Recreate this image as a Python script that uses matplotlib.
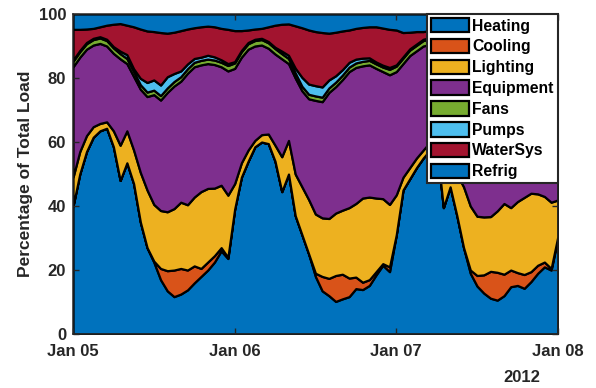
import numpy as np
import matplotlib
matplotlib.use("Agg")
import matplotlib.pyplot as plt
import matplotlib.dates as mdates
from datetime import datetime, timedelta

plt.rcParams['font.family'] = ['Liberation Sans', 'DejaVu Sans']
plt.rcParams['font.weight'] = 'bold'

# Hourly end-use shares (% of total building load), 5-8 Jan 2012
start = datetime(2012, 1, 5)
times = [start + timedelta(hours=h) for h in range(73)]

categories = ["Heating", "Cooling", "Lighting", "Equipment", "Fans", "Pumps", "WaterSys", "Refrig"]
colors = ["#0072BD", "#D95319", "#EDB120", "#7E2F8E", "#77AC30", "#4DBEEE", "#A2142F", "#0072BD"]

heating = [40, 50, 57, 61.5, 63.5, 64.3, 58.5, 48, 53.5, 47, 35, 27, 22.5, 17, 13.5, 11.7, 12.5, 13.8,
           16, 18, 20, 22.5, 26, 23.6, 39, 49, 54, 58.5, 60, 59.5, 54, 44.5, 50, 37, 31, 25, 18, 13.5,
           12, 10.2, 11, 11.7, 14.2, 13.9, 15.2, 18.5, 21.5, 19.5, 31, 45, 48.5, 52, 55, 57.5, 59, 39.5,
           46, 37, 27, 19, 15, 12.8, 11.2, 10.6, 12, 14.8, 15.2, 14.3, 16.4, 19, 21, 20, 30]
cooling = [0, 0, 0, 0, 0, 0, 0, 0, 0, 0, 0, 0, 0.3, 3.5, 6.3, 8.3, 8, 6.2, 5.3, 2.5, 2.5, 2, 1, 0.4,
           0, 0, 0, 0, 0, 0, 0, 0, 0, 0, 0, 0, 1, 4.5, 5.4, 8.1, 7.7, 5.8, 3.6, 2.3, 1.8, 1, 0.5, 1.5,
           0, 0, 0, 0, 0, 0, 0, 0, 0, 0, 0, 1, 3.3, 5.7, 8.4, 8.7, 6.7, 5.2, 4, 4.3, 3.1, 2.5, 1.5, 0.5, 0.5]
lighting = [9, 7, 5, 3.3, 2.3, 2, 5, 11, 10, 10.5, 15.5, 18, 17.7, 18.1, 18.4, 19.2, 20.7, 20.4, 21.5,
            24, 23, 21.1, 19.5, 19.4, 8, 4.5, 3.5, 2, 2.3, 3, 5, 10.9, 10.5, 13, 15, 17, 18.5, 18.3,
            18.7, 19.5, 20, 22, 23, 26.3, 25.8, 23, 20.3, 19.5, 12.5, 4, 3.5, 3, 2.5, 2.5, 2.5, 15.5,
            9, 13, 19, 20, 18.5, 18.1, 17.1, 19.2, 22.1, 19.5, 22.2, 24.1, 24.5, 22.3, 20.5, 20.7, 11.4]
equipment = [34.5, 29.5, 27, 25.5, 25, 23.7, 24.2, 27, 21, 23, 26, 29.2, 34.3, 34.5, 37.3, 38.3, 37.8,
             41.1, 40.7, 39.6, 39, 38.6, 37, 38.8, 36, 33, 31.5, 29.5, 28, 26.8, 28.5, 30.6, 24, 30,
             30, 31.5, 35.5, 36.3, 39.4, 39.5, 40.8, 42.5, 42.5, 41.3, 41.3, 40.5, 39.7, 40.5, 38.5,
             35.5, 35, 33.5, 32.5, 30.5, 29, 34.5, 32.5, 35, 35, 37, 37.7, 36.9, 36.3, 35.5, 35.2, 39,
             39.6, 39.8, 39.5, 40.2, 40.5, 41.8, 42.1]
fans = [1.7, 1.7, 1.7, 1.7, 1.7, 1.7, 1.7, 1.6, 1.6, 1.6, 1.4, 1.4, 1.4, 1.4, 1.4, 1.4, 1.4, 1.4, 1.4,
        1.4, 1.4, 1.4, 1.4, 1.7, 1.7, 1.7, 1.7, 1.7, 1.7, 1.7, 1.7, 1.6, 1.6, 1.6, 1.4, 1.4, 1.4, 1.4,
        1.4, 1.4, 1.4, 1.4, 1.4, 1.4, 1.4, 1.4, 1.4, 1.7, 1.7, 1.7, 1.7, 1.7, 1.7, 1.7, 1.7, 1.6, 1.6,
        1.6, 1.4, 1.4, 1.4, 1.4, 1.4, 1.4, 1.4, 1.4, 1.4, 1.4, 1.4, 1.4, 1.4, 1.4, 1.4]
pumps = [0.4, 0.4, 0.4, 0.4, 0.4, 0.4, 0.4, 0.8, 1.2, 0.8, 2, 3, 3.2, 3.3, 3.5, 2.5, 1.8, 1.5, 1.2, 1,
         1.2, 1, 0.8, 0.6, 0.4, 0.4, 0.4, 0.4, 0.4, 0.4, 0.4, 0.8, 1, 1.5, 2.8, 3.2, 3.2, 3.2, 2.5, 2,
         1.7, 1.5, 1.2, 1, 0.8, 0.6, 0.6, 0.6, 0.4, 0.4, 0.4, 0.4, 0.4, 0.4, 0.4, 0.4, 0.4, 1.5, 2.8,
         3.2, 3.3, 3.2, 2.8, 2.2, 1.8, 1.5, 1.2, 1, 0.8, 0.7, 0.6, 0.6, 0.6]
watersys = [9.6, 6.6, 4.2, 3.1, 3.1, 4.4, 7, 8.6, 9.2, 13.1, 15.4, 16.1, 15.1, 16.4, 13.6, 12.9, 12.6,
            10.9, 9.6, 9.5, 9.1, 9.4, 9.8, 10.7, 9.7, 6.2, 3.9, 3.2, 3.1, 4.6, 6.9, 8.4, 9.8, 13.2,
            15.5, 16.9, 16.9, 17, 14.6, 13.6, 12.1, 10.1, 9.6, 9.6, 9.7, 11, 11.6, 11.9, 10.9, 7.6,
            5.2, 3.9, 2.4, 2.2, 2.7, 4.5, 7, 8.4, 10.8, 13.7, 15.5, 16.2, 16.8, 16.4, 15.1, 13.4,
            11.7, 10.8, 10.3, 9.9, 10.2, 10.3, 9]
refrig = [4.8, 4.8, 4.7, 4.5, 4, 3.5, 3.2, 3, 3.5, 4, 4.7, 5.3, 5.5, 5.8, 6, 5.7, 5.2, 4.7, 4.3, 4,
          3.8, 4, 4.5, 4.8, 5.2, 5.2, 5, 4.7, 4.5, 4, 3.5, 3.2, 3.1, 3.7, 4.3, 5, 5.5, 5.8, 6, 5.7,
          5.3, 5, 4.5, 4.2, 4, 4, 4.4, 4.8, 5, 5.8, 5.7, 5.5, 5.5, 5.2, 4.7, 4, 3.5, 3.5, 4, 4.7,
          5.3, 5.7, 6, 6, 5.7, 5.2, 4.7, 4.3, 4, 4, 4.3, 4.7, 5]

series = [heating, cooling, lighting, equipment, fans, pumps, watersys, refrig]

fig = plt.figure(figsize=(5.96, 3.88), dpi=100)
ax = fig.add_axes([0.1225, 0.139, 0.8135, 0.825])

polys = ax.stackplot(times, *series, labels=categories, colors=colors,
                     edgecolor="black", linewidth=1.6)

ax.set_xlim(datetime(2012, 1, 5), datetime(2012, 1, 8))
ax.set_ylim(0, 100)
ax.set_yticks([0, 20, 40, 60, 80, 100])
ax.set_xticks([datetime(2012, 1, d) for d in (5, 6, 7, 8)])
ax.xaxis.set_major_formatter(mdates.DateFormatter("%b %d"))

dark = "#262626"
for s in ax.spines.values():
    s.set_color(dark)
    s.set_linewidth(1.1)
    s.set_zorder(5)
ax.tick_params(direction="in", length=4, width=1.0, colors=dark, labelsize=12,
               top=True, right=True)
ax.tick_params(axis="x", pad=7)
ax.tick_params(axis="y", pad=5)
for lab in ax.get_xticklabels() + ax.get_yticklabels():
    lab.set_fontweight("bold")

ax.set_ylabel("Percentage of Total Load", fontsize=12.5, fontweight="bold", color=dark, labelpad=4)
ax.text(0.925, -0.112, "2012", transform=ax.transAxes, ha="center", va="top",
        fontsize=12, fontweight="bold", color=dark)

leg = ax.legend(loc="upper right", bbox_to_anchor=(1.0, 1.0), borderaxespad=0.0,
                fontsize=11.3, handlelength=2.45, handleheight=1.05, labelspacing=0.33,
                handletextpad=0.2, borderpad=0.25, fancybox=False, framealpha=1.0,
                edgecolor=dark)
leg.get_frame().set_linewidth(1.5)
for t in leg.get_texts():
    t.set_fontweight("bold")
    t.set_color("black")

fig.savefig("out.png", dpi=100)
